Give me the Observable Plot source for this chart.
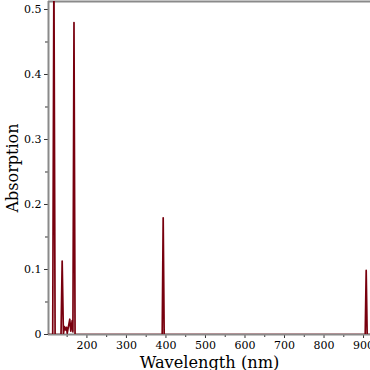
<!DOCTYPE html>
<html>
<head>
<meta charset="utf-8">
<script src="https://cdn.jsdelivr.net/npm/d3@7"></script>
<script src="https://cdn.jsdelivr.net/npm/@observablehq/plot@0.6"></script>
<style>
  html, body { margin: 0; padding: 0; background: #fff; overflow: hidden; }
  #chart { width: 370px; height: 370px; overflow: hidden; }
  #chart svg, #chart svg text { font-family: "DejaVu Serif", "Liberation Serif", serif !important; }
</style>
</head>
<body>
<div id="chart"></div>
<script>
// Spectrum trace (wavelength in nm, absorption)
const wavelength = [103, 113.5, 116.5, 119.5, 134.5, 137.4, 140.5, 143.3, 146, 148.4, 150.2, 156.7, 159.2, 162.7, 164.6, 167.3, 170, 390.5, 393.0, 395.5, 904.2, 906.7, 909.2, 918];
const absorption = [0, 0, 0.56, 0, 0, 0.113, 0.001, 0.012, 0.007, 0.011, 0.002, 0.0235, 0.005, 0.0215, 0.004, 0.48, 0, 0, 0.1795, 0, 0, 0.0985, 0, 0];

const xDomain = [102.8, 917.6];
const yDomain = [0, 0.5123];
const xMajor = [200, 300, 400, 500, 600, 700, 800, 900];
const xMinor = [150, 250, 350, 450, 550, 650, 750, 850];
const yMajor = [0, 0.1, 0.2, 0.3, 0.4, 0.5];
const yMinor = [0.05, 0.15, 0.25, 0.35, 0.45];
const xTitle = "Wavelength (nm)";
const yTitle = "Absorption";

const spectrum = wavelength.map((w, i) => ({w, a: absorption[i]}));
const axisGray = "#8a8a8a";
const lineColor = "#78000E";
const serif = "'DejaVu Serif', 'Liberation Serif', serif";

const chart = Plot.plot({
  width: 370,
  height: 370,
  marginLeft: 48,
  marginRight: 0,
  marginTop: 1,
  marginBottom: 36,
  style: "font-family: 'DejaVu Serif', 'Liberation Serif', serif; font-size: 11px; color: #000; background: #fff; overflow: hidden;",
  x: {domain: xDomain},
  y: {domain: yDomain},
  marks: [
    Plot.axisX({ticks: xMajor, tickSize: 4, tickPadding: 3, tickFormat: d => String(d), label: null, stroke: "#333", fontSize: 11, fontFamily: serif}),
    Plot.axisX({ticks: xMinor, tickSize: 3, text: null, label: null, stroke: "#333"}),
    Plot.axisY({ticks: yMajor, tickSize: 4, tickPadding: 3, tickFormat: d => d === 0 ? "0" : d.toFixed(1), label: null, stroke: "#333", fontSize: 11, fontFamily: serif}),
    Plot.axisY({ticks: yMinor, tickSize: 3, text: null, label: null, stroke: "#333"}),
    Plot.ruleY([yDomain[0]], {stroke: axisGray, strokeWidth: 2}),
    Plot.ruleY([yDomain[1]], {stroke: axisGray, strokeWidth: 2}),
    Plot.ruleX([xDomain[0]], {stroke: axisGray, strokeWidth: 2}),
    Plot.line(spectrum, {x: "w", y: "a", stroke: lineColor, strokeWidth: 1.7, clip: true}),
    Plot.text([xTitle], {frameAnchor: "bottom", textAnchor: "middle", lineAnchor: "middle", dy: 28, fontSize: 16.2, fontFamily: serif, fill: "#000"}),
    Plot.text([yTitle], {frameAnchor: "left", textAnchor: "middle", lineAnchor: "middle", dx: -36, rotate: -90, fontSize: 16, fontFamily: serif, fill: "#000"})
  ]
});
document.getElementById("chart").appendChild(chart);
</script>
</body>
</html>
